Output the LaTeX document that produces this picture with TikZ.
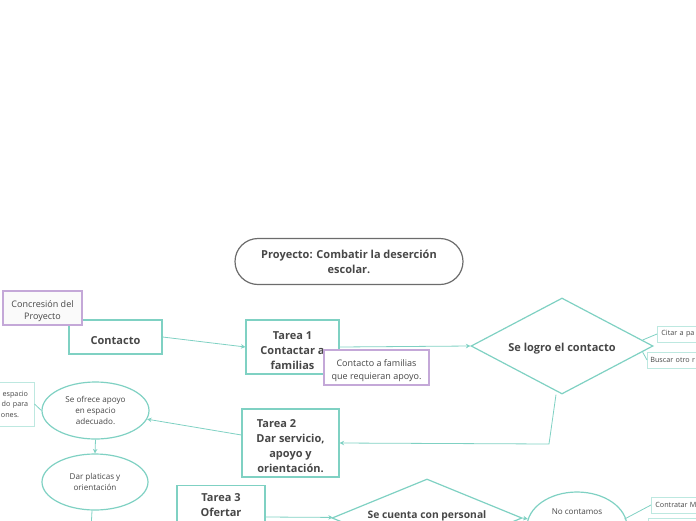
\documentclass[tikz,border=0pt]{standalone}
\usepackage{fontspec}
\setmainfont{Open Sans}
\usepackage{tikz}
\usetikzlibrary{shapes.geometric, arrows.meta, positioning}
\definecolor{tealmap}{HTML}{7FD1C3}
\definecolor{tealsoft}{HTML}{BDE8E0}
\definecolor{lila}{HTML}{C4A8D8}
\definecolor{gristxt}{HTML}{474747}
\newcommand{\altotarea}{\rule{0pt}{14.5pt}}
\newcommand{\altonota}{\rule{0pt}{13pt}}
\tikzstyle{titulo} = [rectangle, rounded corners=23pt, draw=gray!85!black, line width=1.2pt, fill=white, text=gristxt, font=\fontsize{11}{15}\selectfont\bfseries, align=center, inner sep=0pt]
\tikzstyle{tarea} = [rectangle, draw=tealmap, line width=1.2pt, fill=white, text=gristxt, font=\fontsize{11}{15}\selectfont\bfseries, align=center, inner sep=0pt]
\tikzstyle{nota} = [rectangle, draw=lila, line width=1.2pt, fill=white, text=gristxt, font=\fontsize{9}{12.5}\selectfont, align=center, inner sep=0pt]
\tikzstyle{oval} = [ellipse, draw=tealmap, line width=1.2pt, fill=white, text=gristxt, font=\fontsize{8.1}{11}\selectfont, align=center, inner sep=0pt]
\tikzstyle{decision} = [diamond, draw=tealmap, line width=1.2pt, fill=white, text=gristxt, font=\fontsize{11}{15}\selectfont\bfseries, align=center, inner sep=0pt, shape aspect=1.9]
\tikzstyle{hoja} = [rectangle, draw=tealsoft, line width=0.8pt, fill=white, text=gristxt, font=\fontsize{7.2}{10.5}\selectfont, inner sep=0pt, minimum height=16pt]
\tikzstyle{arrow} = [draw=tealmap, line width=0.8pt, -{Stealth[length=4.5pt,width=4.5pt]}]
\tikzstyle{link} = [draw=tealmap, line width=0.8pt]

\begin{document}
\begin{tikzpicture}[x=1pt, y=-1pt]
\useasboundingbox (0,0) rectangle (696,520);
\clip (0,0) rectangle (696,520);

\node[titulo, minimum width=228pt, minimum height=46pt] (proyecto) at (349,261.5) {Proyecto: Combatir la deserción\\escolar.};

\node[tarea, minimum width=93pt, minimum height=34pt] (contacto) at (115.5,337) {\altotarea Contacto};
\node[nota, fill=gray!4, minimum width=79pt, minimum height=34pt] (concresion) at (42.5,308) {\altonota Concresión del\\Proyecto};

\node[tarea, minimum width=93pt, minimum height=54pt] (tarea1) at (292.5,347) {\altotarea Tarea 1\\Contactar a\\familias};
\node[nota, minimum width=105pt, minimum height=35pt] (familias) at (376.5,367.5) {\altonota Contacto a familias\\que requieran apoyo.};

\node[decision, minimum width=182pt, minimum height=96pt] (logro) at (562,346) {\altotarea Se logro el contacto};
\node[hoja, anchor=west, text width=60pt, align=left] (citar) at (657,334) {\hspace{4pt}Citar a pa};
\node[hoja, anchor=west, text width=60pt, align=left] (buscar) at (647,360) {\hspace{3pt}Buscar otro r};

\node[tarea, minimum width=97pt, minimum height=68pt] (tarea2) at (290.5,443) {\altotarea Tarea 2\hspace{28pt}\mbox{}\\Dar servicio,\\apoyo y\\orientación.};

\node[oval, minimum width=107pt, minimum height=57pt] (apoyo) at (95.5,410.5) {Se ofrece apoyo\\en espacio\\adecuado.};
\node[hoja, anchor=east, minimum width=50pt, minimum height=44pt, text width=48pt, align=right] (espacio) at (34.5,404) {espacio\hspace{5pt}\mbox{}\\do para\hspace{5pt}\mbox{}\\ones.\hspace{14pt}\mbox{}};
\node[oval, minimum width=106pt, minimum height=56pt] (platicas) at (95,482) {Dar platicas y\\orientación};
\coordinate (abajo) at (91,530);

\node[tarea, anchor=north, minimum width=88pt, inner ysep=7.5pt] (tarea3) at (221,485) {Tarea 3\\Ofertar};

\node[decision, minimum width=190pt, minimum height=78pt, shape aspect=2.4] (personal) at (427,518) {};
\node[text=gristxt, font=\fontsize{10.3}{15}\selectfont\bfseries] (personaltxt) at (427,516) {Se cuenta con personal};
\node[oval, minimum width=100pt, minimum height=70pt] (nocontamos) at (577,527) {};
\node[text=gristxt, font=\fontsize{8.1}{11}\selectfont] (nocontxt) at (577,512) {No contamos};
\node[hoja, anchor=west, text width=60pt, align=left] (contratar) at (651,505) {\hspace{4pt}Contratar M};
\node[hoja, anchor=west, minimum width=60pt] (otra) at (648,526) {};

\draw[arrow] (contacto.east) -- (tarea1.west);
\draw[arrow] (tarea1.east) -- (logro.west);
\draw[link] ([shift={(-11pt,6pt)}]logro.east) -- (citar.west);
\draw[link] ([shift={(-11pt,-6pt)}]logro.east) -- (buscar.west);
\coordinate (giro) at (549,444);
\draw[arrow] ([xshift=-6pt]logro.south) -- (giro) -- (tarea2.east);
\draw[arrow] ([yshift=8pt]tarea2.west) -- (apoyo);
\draw[link] (apoyo.west) -- (espacio.east);
\draw[arrow] (apoyo.south) -- (platicas.north);
\draw[link] ([xshift=-3pt]platicas.south) -- (abajo);
\draw[arrow] (tarea3.east |- 0,517) -- (personal);
\draw[arrow] (personal.east) -- (nocontamos);
\draw[link] ([shift={(-3pt,8pt)}]nocontamos.east) -- (contratar.west);
\end{tikzpicture}
\end{document}
